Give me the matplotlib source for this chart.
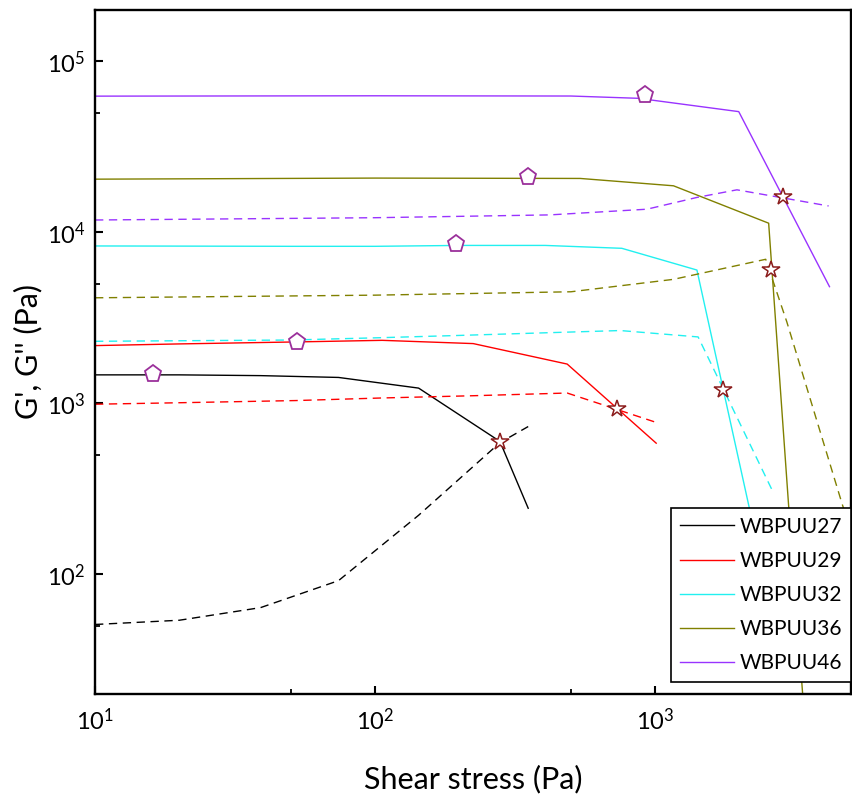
import matplotlib
matplotlib.use("Agg")
import matplotlib.pyplot as plt
from matplotlib.ticker import LogLocator, FixedLocator, LogFormatterMathtext, NullFormatter

plt.rcParams['font.family'] = ['Lato', 'DejaVu Sans']
plt.rcParams['mathtext.fontset'] = 'custom'
plt.rcParams['mathtext.rm'] = 'Lato'
plt.rcParams['mathtext.it'] = 'Lato:italic'
plt.rcParams['mathtext.bf'] = 'Lato:bold'

#### Données (contrainte en Pa, modules en Pa)
samples = ["WBPUU27", "WBPUU29", "WBPUU32", "WBPUU36", "WBPUU46"]
colors = ["#000000", "#ff0000", "#22f0f0", "#808000", "#9933ff"]

# G' (traits pleins)
x27_g1 = [10, 20, 39, 74, 143, 279, 352]
y27_g1 = [1470, 1470, 1455, 1420, 1230, 600, 244]
x29_g1 = [10, 20, 52, 106, 224, 485, 1008]
y29_g1 = [2180, 2230, 2290, 2340, 2240, 1700, 586]
x32_g1 = [10, 50, 100, 200, 405, 760, 1409, 2613]
y32_g1 = [8340, 8300, 8300, 8400, 8400, 8080, 6030, 61]
x36_g1 = [10, 100, 540, 1162, 2541, 2990, 3460]
y36_g1 = [20500, 20800, 20700, 18750, 11330, 261, 10.5]
x46_g1 = [10, 100, 500, 870, 1987, 4190]
y46_g1 = [62700, 63000, 62800, 60900, 50900, 4820]

# G'' (tirets)
x27_g2 = [10, 20, 39, 74, 143, 279, 352]
y27_g2 = [51, 54, 64, 92, 222, 590, 733]
x29_g2 = [10, 20, 52, 106, 224, 485, 1008]
y29_g2 = [990, 1010, 1040, 1077, 1110, 1151, 775]
x32_g2 = [10, 50, 100, 200, 405, 750, 1423, 2613]
y32_g2 = [2310, 2350, 2420, 2500, 2590, 2670, 2450, 312]
x36_g2 = [10, 100, 500, 1162, 2480, 2950, 4640, 5860]
y36_g2 = [4150, 4300, 4500, 5320, 6970, 3000, 261, 80]
x46_g2 = [10, 100, 420, 934, 1409, 1958, 4160]
y46_g2 = [11830, 12200, 12670, 13680, 16030, 17760, 14290]

# limites (pentagones) et points de croisement (étoiles)
lve_x = [16.1, 52.6, 194.5, 352, 921]
lve_y = [1494, 2300, 8530, 21100, 63700]
cross_x = [279, 731, 1750, 2596, 2850]
cross_y = [598, 927, 1200, 6040, 16040]

g1 = [(x27_g1, y27_g1), (x29_g1, y29_g1), (x32_g1, y32_g1), (x36_g1, y36_g1), (x46_g1, y46_g1)]
g2 = [(x27_g2, y27_g2), (x29_g2, y29_g2), (x32_g2, y32_g2), (x36_g2, y36_g2), (x46_g2, y46_g2)]

fig = plt.figure(figsize=(8.52, 7.96), dpi=100)
ax = fig.add_axes([95/852, 1 - 694/796, 756/852, 684/796])

for name, c, (xs, ys), (xd, yd) in zip(samples, colors, g1, g2):
    ax.plot(xs, ys, "-", color=c, lw=1.0, label=name)
    ax.plot(xd, yd, "--", color=c, lw=1.0, dashes=(6, 4))

ax.plot(lve_x, lve_y, "p", ms=12.5, mfc="white", mec="#9b309b", mew=1.3, zorder=6)
ax.plot(cross_x, cross_y, "*", ms=13, mfc="white", mec="#8b1c1c", mew=1.1, zorder=6)

ax.set_xscale("log")
ax.set_yscale("log")
ax.set_xlim(10, 5000)
ax.set_ylim(20, 2e5)

ax.xaxis.set_major_locator(LogLocator(base=10))
ax.yaxis.set_major_locator(LogLocator(base=10))
ax.xaxis.set_major_formatter(LogFormatterMathtext())
ax.yaxis.set_major_formatter(LogFormatterMathtext())
ax.xaxis.set_minor_locator(FixedLocator([50, 500, 5000]))
ax.yaxis.set_minor_locator(FixedLocator([50, 500, 5000, 50000]))
ax.xaxis.set_minor_formatter(NullFormatter())
ax.yaxis.set_minor_formatter(NullFormatter())

ax.tick_params(which="major", direction="in", length=6, width=1.5, labelsize=17)
ax.tick_params(which="minor", direction="in", length=3.5, width=1.3)
ax.tick_params(axis="x", which="major", pad=10)
ax.tick_params(axis="y", which="major", pad=7)
for s in ax.spines.values():
    s.set_linewidth(1.7)

ax.set_xlabel("Shear stress (Pa)", fontsize=22, labelpad=22)
ax.set_ylabel("G', G'' (Pa)", fontsize=22, labelpad=3)

leg = ax.legend(loc="lower right", bbox_to_anchor=(1.0, 0.018), borderaxespad=0,
                fontsize=15, handlelength=2.6, handletextpad=0.3,
                labelspacing=0.68, borderpad=0.4, fancybox=False, framealpha=1)
leg.get_frame().set_edgecolor("black")
leg.get_frame().set_linewidth(1.2)

plt.savefig("out.png", dpi=100)
